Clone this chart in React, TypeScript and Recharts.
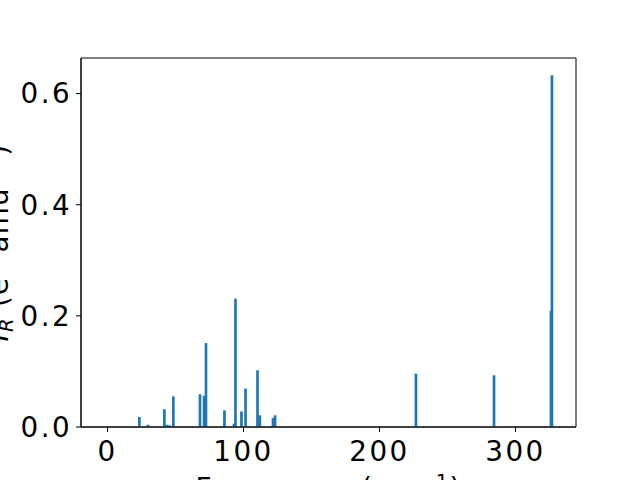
import { BarChart, Bar, XAxis, YAxis, ReferenceArea } from 'recharts';

// mode frequencies (cm^-1) and Raman intensities
const freqs = [23.4, 29.8, 41.8, 43.6, 45.5, 48.4, 68.0, 71.0, 72.4, 86.0, 93.0, 94.1, 98.5, 101.5, 110.3, 112.0, 121.7, 123.2, 226.8, 284.2, 326.1, 326.8];
const intensities = [0.018, 0.004, 0.032, 0.004, 0.003, 0.055, 0.059, 0.056, 0.151, 0.030, 0.006, 0.231, 0.028, 0.069, 0.102, 0.021, 0.016, 0.021, 0.096, 0.093, 0.209, 0.633];
const xTicks = [0, 100, 200, 300];
const yTicks = [0, 0.2, 0.4, 0.6];

const data = freqs.map((f, i) => ({ freq: f, ir: intensities[i] }));

const FONT = 'DejaVu Sans';
const FS = 27.8;
const SUP = 19.5;
const BLUE = '#1f77b4';
const X_DOMAIN: [number, number] = [-19.5, 344.5];
const Y_DOMAIN: [number, number] = [0, 0.664];
const BAR_PX = 2.7;

const NarrowBar = (props: any) => {
  const { x, y, width, height } = props;
  if (!height || height <= 0) return null;
  const cx = x + width / 2;
  return <rect x={cx - BAR_PX / 2} y={y} width={BAR_PX} height={height} fill={BLUE} />;
};

const XLabel = ({ viewBox }: any) => {
  const cx = viewBox.x + viewBox.width / 2;
  return (
    <text x={cx} y={viewBox.y + 71} textAnchor="middle" fontFamily={FONT} fontSize={FS} letterSpacing={1.3} fill="#000">
      Frequency (cm
      <tspan dy={-10.5} fontSize={SUP}>−1</tspan>
      <tspan dy={10.5}>)</tspan>
    </text>
  );
};

const YLabel = ({ viewBox }: any) => {
  const cy = viewBox.y + viewBox.height / 2;
  const x = 7.5;
  return (
    <text
      x={x}
      y={cy}
      transform={`rotate(-90 ${x} ${cy})`}
      textAnchor="middle"
      fontFamily={FONT}
      fontSize={FS}
      letterSpacing={1.3}
      fill="#000"
    >
      <tspan fontStyle="italic">I</tspan>
      <tspan dy={5.5} fontSize={SUP} fontStyle="italic">R</tspan>
      <tspan dy={-5.5}> (e</tspan>
      <tspan dy={-10.5} fontSize={SUP}>2</tspan>
      <tspan dy={10.5}> amu</tspan>
      <tspan dy={-10.5} fontSize={SUP}>−1</tspan>
      <tspan dy={10.5}>)</tspan>
    </text>
  );
};

export default function App() {
  return (
    <div style={{ position: 'absolute', left: 0, top: 0, width: 640, height: 480, background: '#fff', overflow: 'hidden' }}>
      <BarChart width={640} height={480} data={data} margin={{ top: 58, right: 64, bottom: 0, left: 0 }}>
        <XAxis
          dataKey="freq"
          type="number"
          domain={X_DOMAIN}
          allowDataOverflow
          ticks={xTicks}
          height={53}
          tickSize={5}
          tickMargin={9}
          stroke="#000"
          tick={{ fill: '#000', fontSize: FS, fontFamily: FONT, letterSpacing: 2.4 }}
          label={<XLabel />}
        />
        <YAxis
          type="number"
          domain={Y_DOMAIN}
          allowDataOverflow
          ticks={yTicks}
          width={81}
          tickSize={5}
          tickMargin={4}
          stroke="#000"
          tickFormatter={(v: number) => v.toFixed(1)}
          tick={{ fill: '#000', fontSize: FS, fontFamily: FONT, letterSpacing: 2.4 }}
          label={<YLabel />}
        />
        <Bar dataKey="ir" fill={BLUE} isAnimationActive={false} shape={<NarrowBar />} />
        <ReferenceArea x1={X_DOMAIN[0]} x2={X_DOMAIN[1]} y1={Y_DOMAIN[0]} y2={Y_DOMAIN[1]} fill="none" fillOpacity={0} stroke="#000" strokeOpacity={1} strokeWidth={1} ifOverflow="extendDomain" />
      </BarChart>
    </div>
  );
}
